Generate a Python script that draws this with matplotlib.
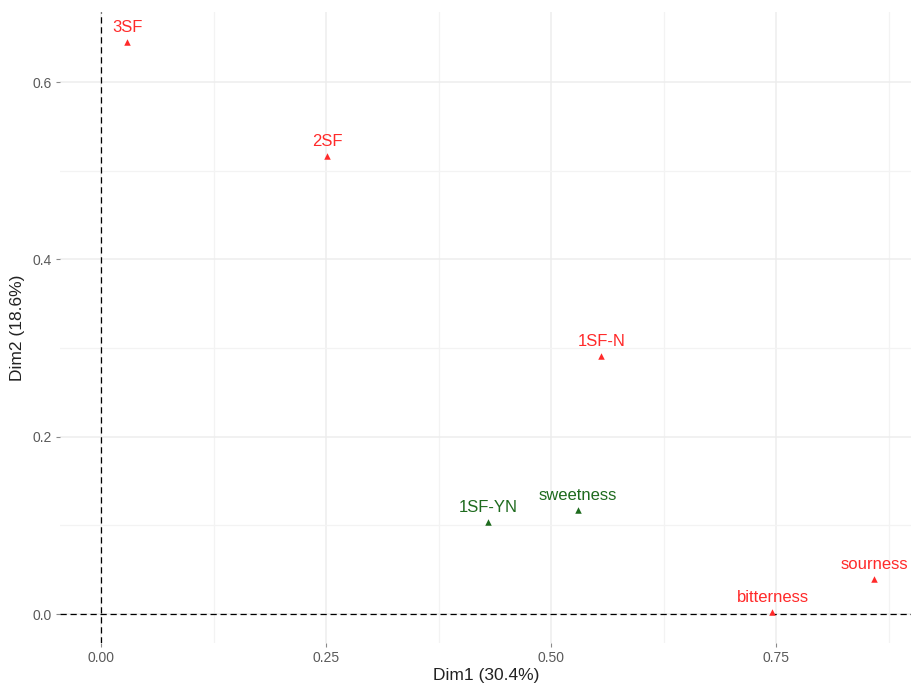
import matplotlib
matplotlib.use("Agg")
import matplotlib.pyplot as plt
from matplotlib.ticker import FixedLocator

plt.rcParams['font.family'] = ['Liberation Sans', 'DejaVu Sans']

labels = ["3SF", "2SF", "1SF-N", "1SF-YN", "sweetness", "bitterness", "sourness"]
dim1 = [0.029, 0.251, 0.556, 0.430, 0.530, 0.746, 0.859]
dim2 = [0.645, 0.517, 0.291, 0.104, 0.117, 0.002, 0.039]
groups = ["red", "red", "red", "green", "green", "red", "red"]
group_colors = {"red": "#FF2A2A", "green": "#1E6B1E"}

xticks = [0.00, 0.25, 0.50, 0.75]
xticklabels = ["0.00", "0.25", "0.50", "0.75"]
yticks = [0.0, 0.2, 0.4, 0.6]
yticklabels = ["0.0", "0.2", "0.4", "0.6"]

fig = plt.figure(figsize=(9.12, 6.88), dpi=100)
ax = fig.add_axes([60/912, 45/688, 852/912, 631/688])
ax.set_xlim(-0.0456, 0.901)
ax.set_ylim(-0.0327, 0.679)

for s in ax.spines.values():
    s.set_visible(False)

ax.xaxis.set_major_locator(FixedLocator(xticks))
ax.yaxis.set_major_locator(FixedLocator(yticks))
ax.set_xticklabels(xticklabels)
ax.set_yticklabels(yticklabels)
ax.xaxis.set_minor_locator(FixedLocator([0.125, 0.375, 0.625, 0.875]))
ax.yaxis.set_minor_locator(FixedLocator([0.1, 0.3, 0.5]))
ax.grid(which='major', color='#EDEDED', linewidth=1.1)
ax.grid(which='minor', color='#F3F3F3', linewidth=0.9)
ax.set_axisbelow(True)
ax.tick_params(which='major', length=3, width=0.8, color='#8A8A8A', labelsize=10,
               labelcolor='#5A5A5A', pad=3)
ax.tick_params(which='minor', length=0)

ax.axvline(0, color='black', linestyle=(0, (5, 3)), linewidth=0.9, zorder=1)
ax.axhline(0, color='black', linestyle=(0, (5, 3)), linewidth=0.9, zorder=1)

for lab, x, y, g in zip(labels, dim1, dim2, groups):
    c = group_colors[g]
    ax.scatter([x], [y], marker='^', s=22, color=c, zorder=3, linewidths=0)
    ax.annotate(lab, (x, y), xytext=(0, 5), textcoords='offset points',
                ha='center', va='bottom', color=c, fontsize=12, zorder=4)

ax.set_xlabel("Dim1 (30.4%)", fontsize=12.5, color='#222222', labelpad=2)
ax.set_ylabel("Dim2 (18.6%)", fontsize=12.5, color='#222222', labelpad=5)

fig.savefig("out.png", dpi=100, facecolor='white')
